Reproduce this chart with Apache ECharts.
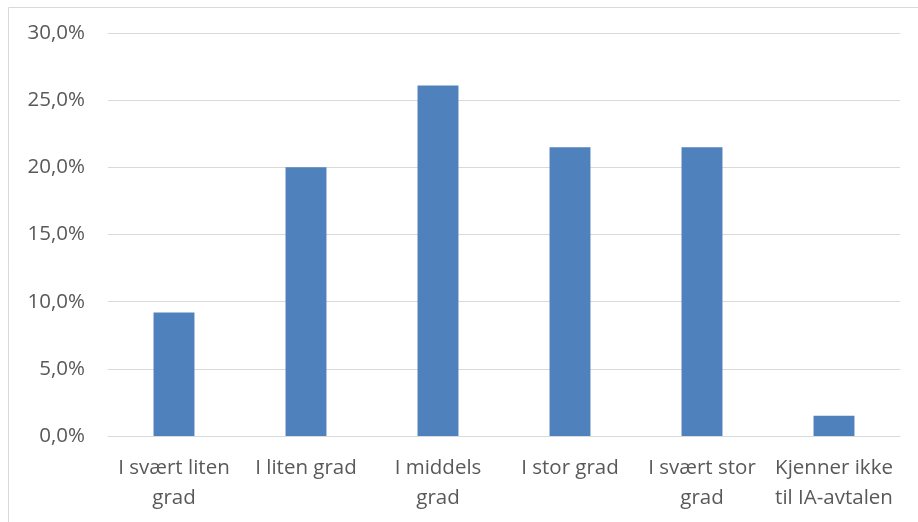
<!DOCTYPE html>
<html>
<head>
<meta charset="utf-8" />
<title>IA-avtalen</title>
<script src="https://cdn.jsdelivr.net/npm/echarts@6/dist/echarts.min.js"></script>
<style>
  html, body { margin: 0; padding: 0; background: #fff; }
  #chart { width: 918px; height: 522px; }
</style>
</head>
<body>
<div id="chart"></div>
<script type="text/javascript">
// data
var categories = ['I svært liten\ngrad', 'I liten grad', 'I middels\ngrad', 'I stor grad', 'I svært stor\ngrad', 'Kjenner ikke\ntil IA-avtalen'];
var values = [9.2, 20.0, 26.1, 21.5, 21.5, 1.5];
var yTicks = [0, 5, 10, 15, 20, 25, 30];

var myChart = echarts.init(document.getElementById('chart'));

var option = {
    backgroundColor: '#fff',
    animation: false,
    textStyle: { fontFamily: 'Open Sans' },
    grid: {
        left: 108,
        right: 18,
        top: 33,
        bottom: 86
    },
    graphic: [{
        type: 'rect',
        shape: { x: 8.5, y: 7.5, width: 940, height: 540 },
        style: { fill: 'none', stroke: '#d9d9d9', lineWidth: 1 },
        silent: true
    }],
    xAxis: {
        type: 'category',
        data: categories,
        axisLine: { lineStyle: { color: '#d9d9d9', width: 1 } },
        axisTick: { show: false },
        axisLabel: {
            interval: 0,
            color: '#595959',
            fontSize: 20.5,
            lineHeight: 30,
            margin: 17
        }
    },
    yAxis: {
        type: 'value',
        min: yTicks[0],
        max: yTicks[yTicks.length - 1],
        interval: 5,
        axisLine: { show: false },
        axisTick: { show: false },
        splitLine: { lineStyle: { color: '#d9d9d9', width: 1 } },
        axisLabel: {
            color: '#595959',
            fontSize: 20.5,
            margin: 23,
            formatter: function (v) {
                return v.toFixed(1).replace('.', ',') + '%';
            }
        }
    },
    series: [{
        type: 'bar',
        data: values,
        barWidth: '31%',
        itemStyle: { color: '#4f81bd' }
    }]
};
myChart.setOption(option);
</script>
</body>
</html>
